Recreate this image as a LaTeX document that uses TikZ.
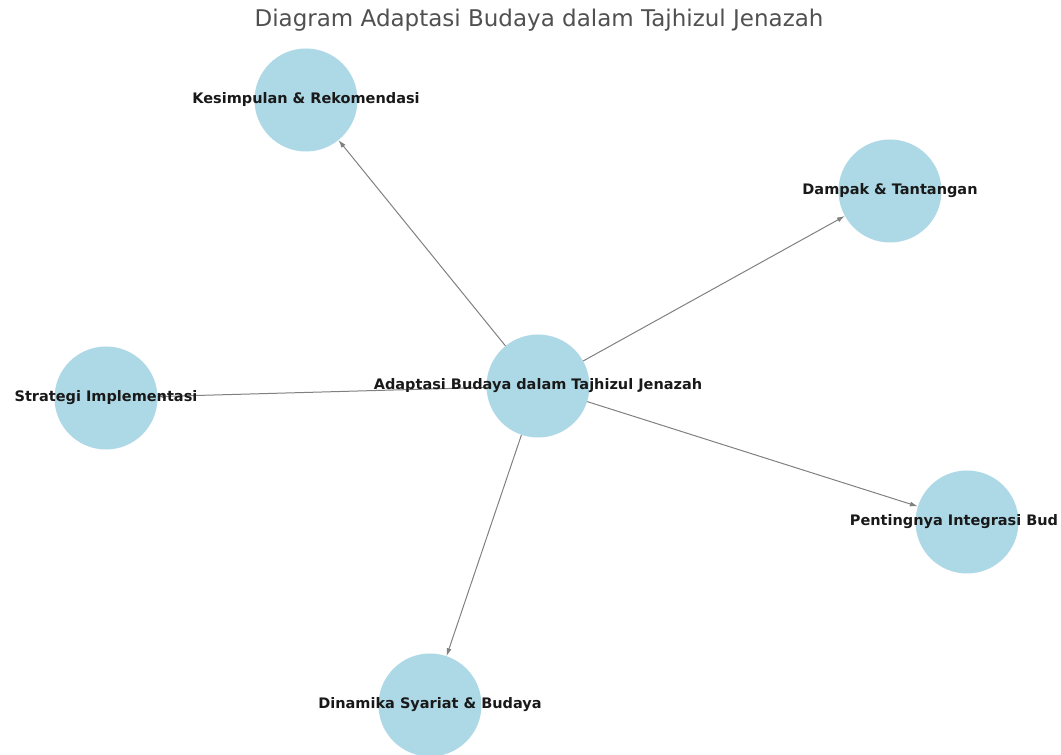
\documentclass[tikz,border=0pt]{standalone}
\usepackage{fontspec}
\setmainfont{DejaVu Sans}
\usepackage{tikz}
\usetikzlibrary{arrows.meta,backgrounds}

\definecolor{nodeblue}{RGB}{173,216,230}
\definecolor{edgegray}{RGB}{128,128,128}
\definecolor{titlegray}{RGB}{80,80,80}

\begin{document}
\begin{tikzpicture}[x=1pt, y=1pt,
topic/.style={circle, fill=nodeblue, draw=none, minimum size=103pt, inner sep=0, outer sep=0},
every label/.style={inner sep=0, font=\fontsize{14.5}{16}\selectfont\bfseries, text=black!90},
link/.style={draw=edgegray, line width=1pt, -{Latex[length=8pt,width=5pt]}}
]
\useasboundingbox (0,0) rectangle (1061,755);
\node[anchor=base, text=titlegray, font=\fontsize{23}{26}\selectfont] (title) at (539,728) {Diagram Adaptasi Budaya dalam Tajhizul Jenazah};

\node[topic, label={center:Adaptasi Budaya dalam Tajhizul Jenazah}] (cen) at (538,369) {};
\node[topic, label={center:Kesimpulan \& Rekomendasi}] (kes) at (306,655) {};
\node[topic, label={center:Dampak \& Tantangan}] (dam) at (890,564) {};
\node[topic, label={center:Strategi Implementasi}] (str) at (106,357) {};
\node[topic, label={[xshift=-13pt]center:Pentingnya Integrasi Bud}] (pen) at (967,233) {};
\node[topic, label={center:Dinamika Syariat \& Budaya}] (din) at (430,50) {};

\begin{scope}[on background layer]
\foreach \t in {kes,dam,str,pen,din}
  \draw[link] (cen) -- (\t);
\end{scope}
\end{tikzpicture}
\end{document}
